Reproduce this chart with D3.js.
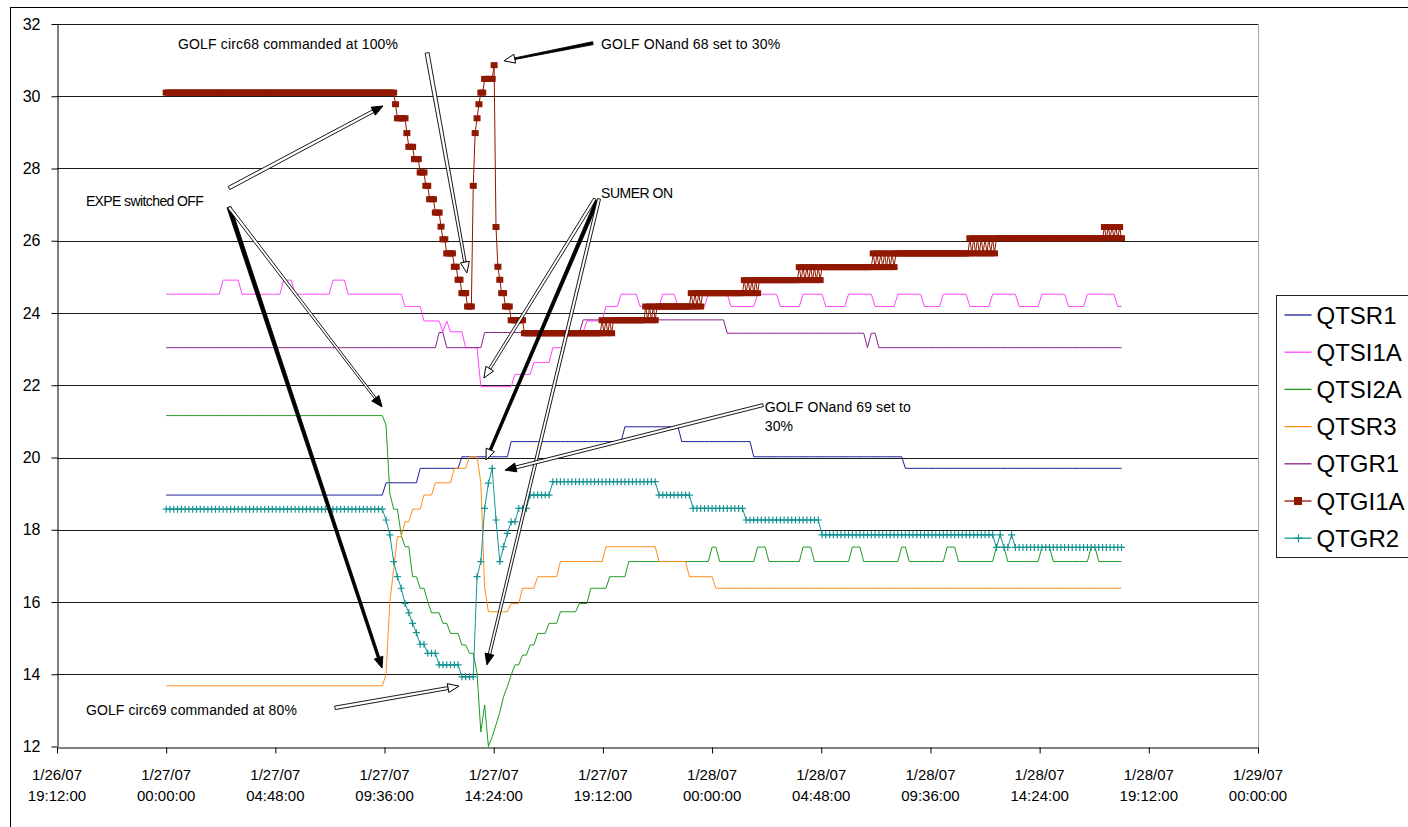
<!DOCTYPE html>
<html>
<head>
<meta charset="utf-8">
<script src="https://cdn.jsdelivr.net/npm/d3@7"></script>
<style>
  body { margin: 0; background: #fff; }
  svg { display: block; font-family: 'Liberation Sans', Arial, sans-serif; }
</style>
</head>
<body>
<div id="root"></div>
<script>
// every series is a list of [value, number of consecutive samples]
// samples start 1/27/07 00:00, every 10 min (QTGI1A every 5 min)
var seriesNames = ['QTSR1', 'QTSI1A', 'QTSI2A', 'QTSR3', 'QTGR1', 'QTGI1A', 'QTGR2'];

var qtsr1 = [[18.96,58],[19.30,9],[19.70,11],[20.02,13],[20.44,30],[20.85,15],[20.44,19],[20.02,40],[19.70,58]];

var qtsi1a = [[24.52,15],[24.91,5],[24.52,11],[24.91,3],[24.52,10],[24.91,4],[24.52,15],[24.18,5],[23.78,5],
  [23.48,1],[23.78,1],[23.48,4],[23.04,4],[21.96,9],[22.30,5],[22.63,5],[23.04,4],[23.48,5],[23.78,5],
  [24.18,4],[24.52,5],[24.18,6],[24.52,4],[24.18,8],[24.52,6],[24.18,7],[24.52,6],[24.18,6],[24.52,6],
  [24.18,6],[24.52,7],[24.18,6],[24.52,7],[24.18,5],[24.52,7],[24.18,6],[24.52,7],[24.18,6],[24.52,7],
  [24.18,5],[24.52,8],[24.18,2]];

var qtsi2a = [[21.16,58],[20.9,1],[19.0,1],[18.57,2],[17.85,1],[17.53,2],[16.70,2],[16.38,2],[16.01,1],
  [15.70,3],[15.41,2],[15.13,3],[14.81,2],[14.58,2],[14.03,1],[12.4,1],[13.15,1],[12.0,1],[12.27,1],
  [12.6,1],[12.95,1],[13.38,1],[13.66,1],[13.98,1],[14.26,2],[14.53,2],[14.81,2],[15.13,3],[15.41,3],
  [15.73,5],[15.96,3],[16.38,5],[16.70,5],[17.12,22],[17.52,2],[17.12,10],[17.52,3],[17.12,9],[17.52,3],
  [17.12,10],[17.52,3],[17.12,10],[17.52,2],[17.12,10],[17.52,3],[17.12,10],[17.52,3],[17.12,9],
  [17.52,3],[17.12,10],[17.52,2],[17.12,7]];

var qtsr3 = [[13.68,58],[14.0,1],[16.0,1],[16.9,1],[17.81,2],[18.22,2],[18.57,3],[18.96,3],[19.30,5],
  [19.70,4],[20.02,3],[19.3,1],[16.4,1],[15.73,6],[15.96,3],[16.38,4],[16.70,6],[17.12,12],[17.53,14],
  [17.12,8],[16.70,7],[16.38,108]];

var qtgr1 = [[23.04,72],[23.46,2],[23.04,10],[23.46,26],[23.81,38],[23.44,37],[23.04,1],[23.44,2],[23.04,65]];

var qtgi1a = [[30.1,121],[29.78,1],[29.39,5],[28.98,1],[28.6,3],[28.26,3],[27.89,3],[27.52,2],[27.15,3],
  [26.78,3],[26.39,1],[26.04,2],[25.65,4],[25.28,2],[24.92,2],[24.55,3],[24.18,3],[27.52,1],[28.98,1],
  [29.39,1],[29.78,1],[30.1,2],[30.48,5],[30.86,1],[26.38,1],[25.28,1],[24.92,1],[24.55,2],[24.18,3],
  [23.8,7],[23.44,41],
  [23.8,1],[23.44,1],[23.8,1],[23.44,1],[23.8,1],[23.44,1],[23.8,17],
  [24.18,1],[23.8,1],[24.18,1],[23.8,1],[24.18,1],[23.8,1],[24.18,18],
  [24.55,1],[24.18,1],[24.55,1],[24.18,1],[24.55,1],[24.18,1],[24.55,22],
  [24.91,1],[24.55,1],[24.91,1],[24.55,1],[24.91,1],[24.55,1],[24.91,1],[24.55,1],[24.91,21],
  [25.27,1],[24.91,1],[25.27,1],[24.91,1],[25.27,1],[24.91,1],[25.27,1],[24.91,1],[25.27,1],[24.91,1],
  [25.27,1],[24.91,1],[25.27,27],
  [25.65,1],[25.27,1],[25.65,1],[25.27,1],[25.65,1],[25.27,1],[25.65,1],[25.27,1],[25.65,1],[25.27,1],
  [25.65,1],[25.27,1],[25.65,39],
  [26.07,1],[25.65,1],[26.07,1],[25.65,1],[26.07,1],[25.65,1],[26.07,1],[25.65,1],[26.07,1],[25.65,1],
  [26.07,1],[25.65,1],[26.07,1],[25.65,1],[26.07,57],
  [26.38,1],[26.07,1],[26.38,1],[26.07,1],[26.38,1],[26.07,1],[26.38,1],[26.07,1],[26.38,1],[26.07,1]];

var qtgr2 = [[18.57,58],[18.27,1],[17.86,1],[17.12,1],[16.70,1],[16.38,1],[15.96,1],[15.70,1],[15.41,1],
  [15.15,1],[14.83,2],[14.58,3],[14.26,6],[13.93,4],[16.70,1],[17.12,1],[18.59,1],[19.29,1],[19.70,1],
  [18.27,1],[17.12,1],[17.53,1],[17.90,1],[18.22,2],[18.59,3],[18.96,6],[19.33,28],[18.96,9],[18.59,14],
  [18.27,20],[17.86,46],[17.51,1],[17.86,1],[17.51,2],[17.86,1],[17.51,29]];

var seriesRuns = [qtsr1, qtsi1a, qtsi2a, qtsr3, qtgr1, qtgi1a, qtgr2];
var sampleMinutes = [10, 10, 10, 10, 10, 5, 10];

var tickTimes = ['2007-01-26 19:12', '2007-01-27 00:00', '2007-01-27 04:48', '2007-01-27 09:36',
  '2007-01-27 14:24', '2007-01-27 19:12', '2007-01-28 00:00', '2007-01-28 04:48', '2007-01-28 09:36',
  '2007-01-28 14:24', '2007-01-28 19:12', '2007-01-29 00:00'];
var yTicks = [12, 14, 16, 18, 20, 22, 24, 26, 28, 30, 32];

// annotations, hours after 1/27/07 00:00 and value
var notes = [
  { lines: ['GOLF circ68 commanded at 100%'], h: 0.52, v: 31.31, len: 220 },
  { lines: ['GOLF ONand 68 set to 30%'], h: 19.12, v: 31.31, len: 179 },
  { lines: ['EXPE switched OFF'], h: -3.53, v: 26.96, len: 118 },
  { lines: ['SUMER ON'], h: 19.12, v: 27.18, len: 72 },
  { lines: ['GOLF ONand 69 set to', '30%'], h: 26.32, v: 21.26, len: 146 },
  { lines: ['GOLF circ69 commanded at 80%'], h: -3.53, v: 12.87, len: 211 }
];
var arrows = [
  { h1: 11.47, v1: 31.20, h2: 13.22, v2: 25.11, w1: 4, w2: 2.5, shaft: 'white', head: 'white' },
  { h1: 2.76, v1: 27.46, h2: 9.53, v2: 29.73, w1: 3.5, w2: 3, shaft: 'white', head: 'black' },
  { h1: 2.76, v1: 26.93, h2: 9.49, v2: 14.17, w1: 4, w2: 2.5, shaft: 'black', head: 'black' },
  { h1: 2.76, v1: 26.93, h2: 9.49, v2: 21.40, w1: 3, w2: 2, shaft: 'white', head: 'black' },
  { h1: 18.85, v1: 27.16, h2: 13.97, v2: 22.20, w1: 3, w2: 2.5, shaft: 'white', head: 'white' },
  { h1: 18.94, v1: 27.10, h2: 14.06, v2: 19.93, w1: 3.5, w2: 2.5, shaft: 'black', head: 'white' },
  { h1: 19.03, v1: 27.16, h2: 14.10, v2: 14.26, w1: 3, w2: 2.5, shaft: 'white', head: 'black' },
  { h1: 26.24, v1: 21.45, h2: 14.90, v2: 19.65, w1: 3, w2: 3, shaft: 'white', head: 'black' },
  { h1: 7.42, v1: 13.07, h2: 12.87, v2: 13.67, w1: 3.5, w2: 3, shaft: 'white', head: 'white' },
  { h1: 18.76, v1: 31.47, h2: 14.85, v2: 30.98, w1: 3, w2: 1.5, shaft: 'black', head: 'white' }
];

var colors = ['#1a1f9a', '#ff44ff', '#1e9a1e', '#ff8c1a', '#8a1f8a', '#901800', '#169494'];

var width = 1408, height = 827;
var margin = { left: 57, right: 1258, top: 24, bottom: 746.5 };

var parse = d3.timeParse('%Y-%m-%d %H:%M');
var start = parse('2007-01-27 00:00');
var at = h => new Date(start.getTime() + h * 3600000);

var svg = d3.select('#root')
  .append('svg')
    .attr('width', width)
    .attr('height', height);

svg.append('rect').attr('width', width).attr('height', height).attr('fill', '#fff');
svg.append('rect')
  .attr('x', 10.5).attr('y', 7.5).attr('width', 1500).attr('height', 900)
  .attr('fill', 'none').attr('stroke', '#000');

var tickDates = tickTimes.map(parse);
var xScale = d3.scaleTime()
  .domain([tickDates[0], tickDates[tickDates.length - 1]])
  .range([margin.left, margin.right]);
var yScale = d3.scaleLinear()
  .domain([12, 32])
  .range([margin.bottom, margin.top]);

// plot area right border and grid
svg.append('line')
  .attr('x1', margin.right).attr('x2', margin.right)
  .attr('y1', margin.top).attr('y2', margin.bottom)
  .attr('stroke', '#a8a8a8').attr('shape-rendering', 'crispEdges');

svg.append('g')
  .selectAll('line')
  .data(yTicks.slice(1))
  .enter()
  .append('line')
    .attr('x1', margin.left).attr('x2', margin.right)
    .attr('y1', d => Math.round(yScale(d)) + 0.5)
    .attr('y2', d => Math.round(yScale(d)) + 0.5)
    .attr('stroke', '#1a1a1a');

var yAxisCall = d3.axisLeft(yScale)
  .tickValues(yTicks)
  .tickSize(6)
  .tickSizeOuter(0)
  .tickPadding(11);

var yAxis = svg.append('g')
  .attr('transform', 'translate(' + (margin.left + 0.5) + ',0)')
  .call(yAxisCall);
yAxis.selectAll('text').attr('font-size', '16px').attr('fill', '#000').attr('font-family', 'Liberation Sans, Arial');
yAxis.selectAll('path, line').attr('stroke', '#000');

var xAxisCall = d3.axisBottom(xScale)
  .tickValues(tickDates)
  .tickSize(6)
  .tickSizeOuter(0)
  .tickFormat('');

var xAxis = svg.append('g')
  .attr('transform', 'translate(0,' + (Math.round(margin.bottom) + 0.5) + ')')
  .call(xAxisCall);
xAxis.selectAll('path, line').attr('stroke', '#000');

var fmtDay = d3.timeFormat('%-m/%d/%y'), fmtTime = d3.timeFormat('%H:%M:%S');
var xLabels = svg.append('g')
  .selectAll('text')
  .data(tickDates)
  .enter()
  .append('text')
    .attr('text-anchor', 'middle')
    .attr('font-size', '15px')
    .attr('fill', '#000');
xLabels.append('tspan').attr('x', d => xScale(d)).attr('y', 780).text(fmtDay);
xLabels.append('tspan').attr('x', d => xScale(d)).attr('y', 801).text(fmtTime);

// series
var line = d3.line()
  .x(d => xScale(d.t))
  .y(d => yScale(d.v));

var series = seriesNames.map((name, i) => {
  var points = [], k = 0;
  seriesRuns[i].forEach(run => {
    for (var j = 0; j < run[1]; j++) {
      points.push({ t: new Date(start.getTime() + k * sampleMinutes[i] * 60000), v: run[0] });
      k++;
    }
  });
  return { name: name, color: colors[i], points: points };
});

var plot = svg.append('g');
series.forEach(s => {
  plot.append('path')
    .datum(s.points)
    .attr('fill', 'none')
    .attr('stroke', s.color)
    .attr('stroke-width', 1)
    .attr('d', line);

  if (s.name === 'QTGI1A') {
    plot.append('g')
      .selectAll('rect')
      .data(s.points)
      .enter()
      .append('rect')
        .attr('x', d => xScale(d.t) - 3.5)
        .attr('y', d => yScale(d.v) - 3)
        .attr('width', 7)
        .attr('height', 6)
        .attr('fill', s.color);
  }
  if (s.name === 'QTGR2') {
    plot.append('g')
      .selectAll('path')
      .data(s.points)
      .enter()
      .append('path')
        .attr('d', d => {
          var cx = xScale(d.t), cy = yScale(d.v);
          return 'M' + (cx - 3.5) + ',' + cy + 'H' + (cx + 3.5) + 'M' + cx + ',' + (cy - 3.5) + 'V' + (cy + 3.5);
        })
        .attr('stroke', s.color)
        .attr('stroke-width', 1.2);
  }
});

// annotations
var noteText = svg.append('g')
  .selectAll('text')
  .data(notes)
  .enter()
  .append('text')
    .attr('font-size', '14px')
    .attr('fill', '#000');
noteText.each(function (d) {
  d3.select(this).selectAll('tspan')
    .data(d.lines)
    .enter()
    .append('tspan')
      .attr('x', xScale(at(d.h)))
      .attr('y', (l, i) => yScale(d.v) + i * 19)
      .attr('textLength', (l, i) => i === 0 ? d.len : null)
      .attr('lengthAdjust', 'spacing')
      .text(l => l);
});

var headLen = 11, headW = 4.5;
var arrowGroup = svg.append('g');
arrows.forEach(a => {
  var x1 = xScale(at(a.h1)), y1 = yScale(a.v1);
  var x2 = xScale(at(a.h2)), y2 = yScale(a.v2);
  var L = Math.hypot(x2 - x1, y2 - y1);
  var ux = (x2 - x1) / L, uy = (y2 - y1) / L;
  var nx = -uy, ny = ux;
  var bx = x2 - ux * headLen, by = y2 - uy * headLen;
  var shaft = [
    [x1 + nx * a.w1 / 2, y1 + ny * a.w1 / 2],
    [bx + nx * a.w2 / 2, by + ny * a.w2 / 2],
    [bx - nx * a.w2 / 2, by - ny * a.w2 / 2],
    [x1 - nx * a.w1 / 2, y1 - ny * a.w1 / 2]
  ];
  var head = [
    [bx + nx * headW, by + ny * headW],
    [x2, y2],
    [bx - nx * headW, by - ny * headW]
  ];
  arrowGroup.append('polygon')
    .attr('points', shaft.map(p => p.join(',')).join(' '))
    .attr('fill', a.shaft)
    .attr('stroke', '#000')
    .attr('stroke-width', 0.9);
  arrowGroup.append('polygon')
    .attr('points', head.map(p => p.join(',')).join(' '))
    .attr('fill', a.head)
    .attr('stroke', '#000')
    .attr('stroke-width', 1);
});

// legend
var legend = svg.append('g').attr('transform', 'translate(1276.5,295.5)');
legend.append('rect')
  .attr('width', 200).attr('height', 262)
  .attr('fill', '#fff').attr('stroke', '#222');

var rows = legend.selectAll('g.row')
  .data(series)
  .enter()
  .append('g')
    .attr('class', 'row')
    .attr('transform', (d, i) => 'translate(0,' + (19.5 + i * 37.2) + ')');

rows.append('line')
  .attr('x1', 8).attr('x2', 35)
  .attr('stroke', d => d.color)
  .attr('stroke-width', 1.3);
rows.filter(d => d.name === 'QTGI1A')
  .append('rect')
    .attr('x', 17.5).attr('y', -4).attr('width', 8).attr('height', 8)
    .attr('fill', d => d.color);
rows.filter(d => d.name === 'QTGR2')
  .append('path')
    .attr('d', 'M18,0H26M22,-4V4')
    .attr('stroke', d => d.color)
    .attr('stroke-width', 1.2);
rows.append('text')
  .attr('x', 40)
  .attr('y', 8.5)
  .attr('font-size', '24px')
  .attr('fill', '#000')
  .text(d => d.name);
</script>
</body>
</html>
